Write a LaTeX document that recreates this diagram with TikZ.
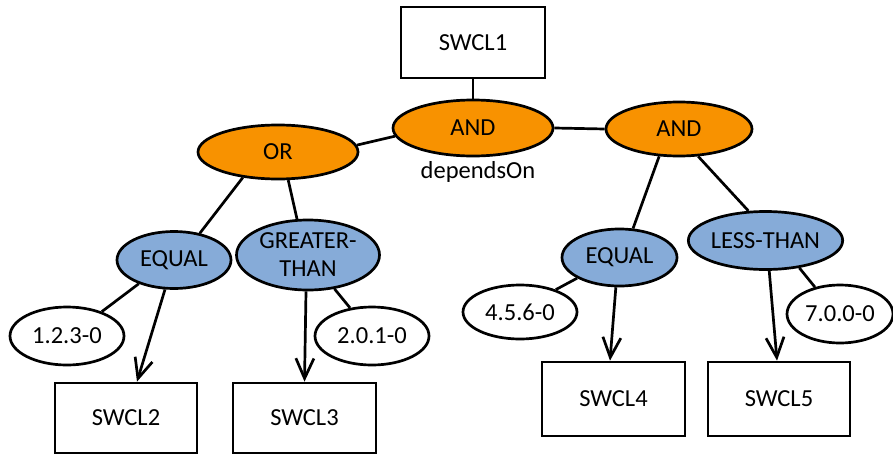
\documentclass[tikz,border=0pt]{standalone}
\usepackage{fontspec}
\setmainfont{Carlito}
\usetikzlibrary{shapes.geometric,arrows.meta,calc}
\definecolor{andorange}{RGB}{248,146,0}
\definecolor{cmpblue}{RGB}{134,171,216}
\begin{document}
\begin{tikzpicture}[x=1pt,y=-1pt,
  every node/.style={font=\fontsize{24.5}{28}\selectfont, inner sep=0pt},
  boxnode/.style={draw, line width=2.7pt, rectangle, minimum width=143pt, minimum height=71pt},
  opnode/.style={draw, line width=2.7pt, ellipse, fill=andorange},
  cmpnode/.style={draw, line width=2.7pt, ellipse, fill=cmpblue},
  valnode/.style={draw, line width=2.7pt, ellipse, fill=white},
  link/.style={line width=2.7pt},
  arr/.style={line width=2.7pt, -{Straight Barb[length=20pt,width=18pt,line width=2.7pt]}}
]
\useasboundingbox (0,0) rectangle (893,455);
\begin{scope}
\clip (0,0) rectangle (893,455);
% boxes
\node[boxnode, minimum width=144pt, minimum height=71pt] (s1) at (473,42.5) {SWCL1};
\node[boxnode, minimum width=142pt, minimum height=70pt] (s2) at (126,418) {SWCL2};
\node[boxnode, minimum width=143pt, minimum height=70pt] (s3) at (304.5,418) {SWCL3};
\node[boxnode, minimum width=143pt, minimum height=74pt] (s4) at (613.5,399) {SWCL4};
\node[boxnode, minimum width=142pt, minimum height=74pt] (s5) at (779,399) {SWCL5};
% operators
\node[opnode, minimum width=160pt, minimum height=56pt] (and1) at (473,128) {AND};
\node[opnode, minimum width=146pt, minimum height=54pt] (and2) at (679,129) {AND};
\node[opnode, minimum width=160pt, minimum height=54pt] (or) at (278,152) {OR};
\node (dep) at (478,172) {dependsOn};
% comparisons
\node[cmpnode, minimum width=114pt, minimum height=57pt] (eql) at (174,260) {EQUAL};
\node[cmpnode, minimum width=143pt, minimum height=70pt, align=center] (gt) at (308,255) {GREATER-\\THAN};
\node[cmpnode, minimum width=115pt, minimum height=57pt] (eqr) at (619.5,257.5) {EQUAL};
\node[cmpnode, minimum width=143pt, minimum height=58pt] (lt) at (765.5,240.5) {LESS-THAN};
% values
\node[valnode, minimum width=114pt, minimum height=58pt] (v1) at (67,336) {1.2.3-0};
\node[valnode, minimum width=114pt, minimum height=58pt] (v2) at (372,336) {2.0.1-0};
\node[valnode, minimum width=114pt, minimum height=54pt] (v3) at (520,312) {4.5.6-0};
\node[valnode, minimum width=106pt, minimum height=58pt] (v4) at (840,314) {7.0.0-0};
\end{scope}
% connectors
\draw[link] (s1.south) -- (and1.north);
\draw[link] (and1.east) -- (and2.west);
\draw[link] (and1.186) -- (or.5);
\draw[link] (or.216) -- (eql.46);
\draw[link] (or.290) -- (gt.107);
\draw[link] (eql.214) -- (v1.35);
\draw[link] (gt.308) -- (v2.128);
\draw[link] (and2.234) -- (eqr.65);
\draw[link] (and2.305) -- (lt.120);
\draw[link] (eqr.206) -- (v3.32);
\draw[link] (lt.321) -- (v4.133);
\draw[arr] (eql.253) -- ([xshift=11pt]s2.north);
\draw[arr] ([xshift=-2pt]gt.south) -- (s3.north);
\draw[arr] (eqr.263) -- ([xshift=-3.5pt]s4.north);
\draw[arr] (lt.277) -- ([xshift=-2pt]s5.north);
\end{tikzpicture}
\end{document}
